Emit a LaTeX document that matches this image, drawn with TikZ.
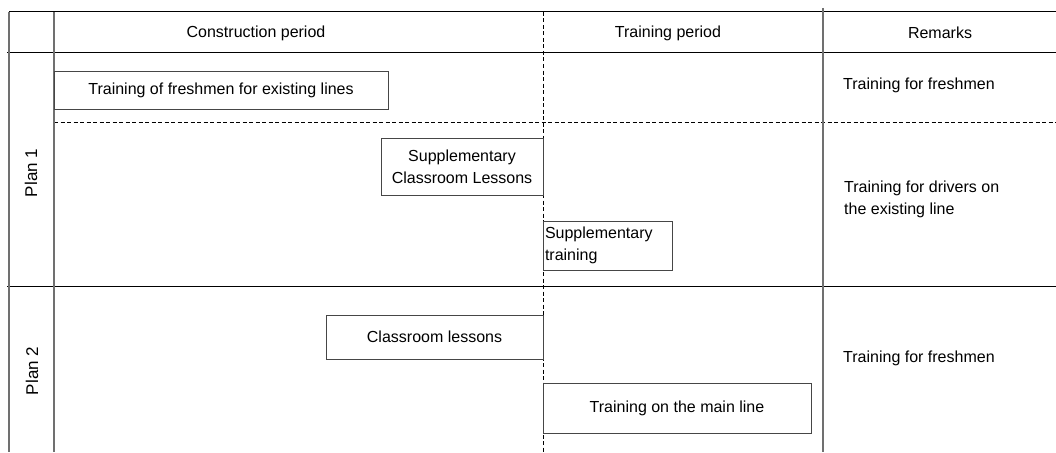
\documentclass[tikz,border=0pt]{standalone}
\usepackage{fontspec}
\setmainfont{Liberation Sans}
\begin{document}
\begin{tikzpicture}[x=1pt,y=-1pt,
  rule/.style={line width=1pt,black},
  grayrule/.style={line width=1.6pt,color=rulegray},
  dashrule/.style={line width=1pt,black,dash pattern=on 4pt off 2.5pt},
  bar/.style={draw=boxgray,line width=1pt,rectangle,inner sep=0pt,
    font=\fontsize{16}{22}\selectfont,align=center},
  lbl/.style={inner sep=0pt,font=\fontsize{16}{22}\selectfont},
  planlbl/.style={inner sep=0pt,rotate=90,font=\fontsize{17}{20}\selectfont}]
\definecolor{rulegray}{RGB}{112,112,112}
\definecolor{boxgray}{RGB}{70,70,70}
\useasboundingbox (0,0) rectangle (1056,452);

% grid of the table
\draw[rule] (9,12) -- (1056,12);
\draw[rule] (7,53) -- (1056,53);
\draw[rule] (7,286) -- (1056,286);
\draw[dashrule] (54,122) -- (1056,122);
\draw[grayrule] (9,12) -- (9,452);
\draw[grayrule] (54,12) -- (54,452);
\draw[grayrule] (823,8) -- (823,452);
\draw[dashrule] (543,12) -- (543,452);

% column headings
\node[lbl] (hcons) at (256,33) {Construction period};
\node[lbl] (htrain) at (668,33) {Training period};
\node[lbl] (hrem) at (940,33) {Remarks};

% row headings
\node[planlbl] (plan1) at (31,173) {Plan 1};
\node[planlbl] (plan2) at (32,371) {Plan 2};

% schedule bars, Plan 1
\node[bar,minimum width=334pt,minimum height=38pt] (b1) at (221,90)
  {Training of freshmen for existing lines};
\node[bar,minimum width=162pt,minimum height=57pt] (b2) at (462,166.5)
  {Supplementary\\Classroom Lessons};
\node[bar,minimum width=129pt,minimum height=49pt,inner xsep=2pt,
  text width=125pt,align=left] (b3) at (607.5,245.5)
  {Supplementary\\training};

% schedule bars, Plan 2
\node[bar,minimum width=217pt,minimum height=44pt] (b4) at (434.5,337)
  {Classroom lessons};
\node[bar,minimum width=268pt,minimum height=50pt] (b5) at (677,408)
  {Training on the main line};

% remarks
\node[lbl,anchor=west] (r1) at (843,85) {Training for freshmen};
\node[lbl,anchor=west,align=left] (r2) at (844,199)
  {Training for drivers on\\the existing line};
\node[lbl,anchor=west] (r3) at (843,358) {Training for freshmen};
\end{tikzpicture}
\end{document}
